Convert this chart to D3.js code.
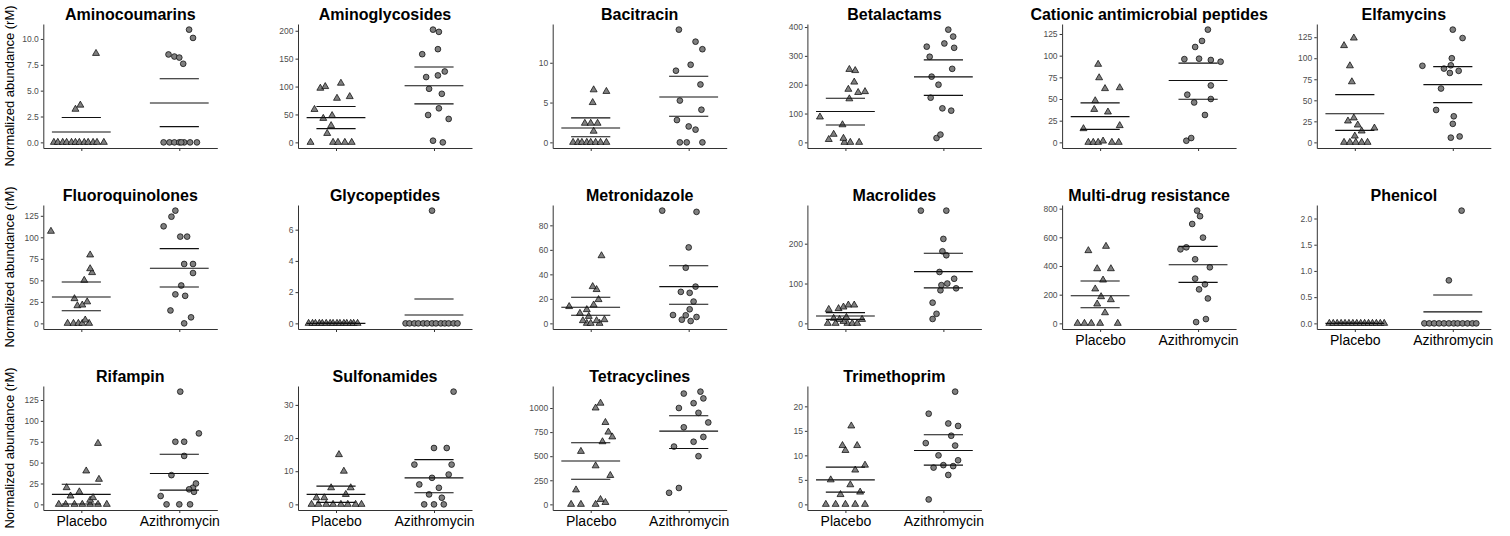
<!DOCTYPE html>
<html>
<head>
<meta charset="utf-8">
<script src="https://cdn.jsdelivr.net/npm/d3@7/dist/d3.min.js"></script>
<style>
  body { margin: 0; background: #fff; }
  svg { display: block; font-family: "Liberation Sans", Arial, sans-serif; }
</style>
</head>
<body>
<svg id="chart" width="1510" height="536"></svg>
<script>
// Panels of the facet grid, row by row
const panelNames = [
  "Aminocoumarins", "Aminoglycosides", "Bacitracin", "Betalactams", "Cationic antimicrobial peptides", "Elfamycins",
  "Fluoroquinolones", "Glycopeptides", "Metronidazole", "Macrolides", "Multi-drug resistance", "Phenicol",
  "Rifampin", "Sulfonamides", "Tetracyclines", "Trimethoprim"
];
const groups = ["Placebo", "Azithromycin"];

const yTicks = [
  [0, 2.5, 5, 7.5, 10], [0, 50, 100, 150, 200], [0, 5, 10], [0, 100, 200, 300, 400], [0, 25, 50, 75, 100, 125], [0, 25, 50, 75, 100, 125],
  [0, 25, 50, 75, 100, 125], [0, 2, 4, 6], [0, 20, 40, 60, 80], [0, 100, 200], [0, 200, 400, 600, 800], [0, 0.5, 1, 1.5, 2],
  [0, 25, 50, 75, 100, 125], [0, 10, 20, 30], [0, 250, 500, 750, 1000], [0, 5, 10, 15, 20]
];
const tickDecimals = [1, 0, 0, 0, 0, 0, 0, 0, 0, 0, 0, 1, 0, 0, 0, 0];

// [jitter (category units), normalized abundance]
const placeboPoints = [
  [[-0.28,0],[-0.24,0],[-0.19,0],[-0.15,0],[-0.10,0],[-0.06,0],[-0.02,0],[0.03,0],[0.07,0],[0.12,0],[0.16,0],[0.23,0],[-0.06,3.2],[-0.01,3.6],[0.15,8.6]],
  [[-0.26,0],[-0.03,0],[0.02,0],[0.09,0],[0.16,0],[-0.09,16],[-0.05,30],[-0.13,43],[-0.04,48],[-0.22,59],[0.01,79],[0.14,82],[-0.16,97],[-0.11,100],[0.05,106]],
  [[-0.18,0],[-0.13,0],[-0.09,0],[-0.04,0],[0.0,0],[0.05,0],[0.10,0],[0.16,0],[0.03,1.4],[-0.06,2.4],[0,2.4],[0.07,2.4],[0.02,5.0],[0.03,6.6],[0.16,6.4]],
  [[-0.01,0],[0.05,0],[0.14,0],[-0.17,10],[-0.02,14],[-0.12,28],[-0.03,61],[-0.26,88],[0.04,151],[0.13,173],[0.2,176],[0.03,184],[0.09,209],[0.1,249],[0.04,253]],
  [[-0.12,0],[-0.07,0],[-0.02,0],[0.12,0],[0.19,0],[0.03,1.5],[-0.17,15.8],[0.2,19.3],[0.08,35],[-0.06,38],[-0.05,48],[0.05,62],[0.2,63],[-0.01,74.5],[-0.02,90]],
  [[-0.11,0],[-0.05,0],[0.01,0],[0.07,0],[0.13,0],[0,7.5],[0.07,13.5],[0.2,17],[0.03,20.6],[-0.07,25.4],[-0.01,29],[-0.03,72],[-0.05,91],[-0.11,115],[-0.01,124]],
  [[-0.14,0],[-0.08,0],[-0.03,0],[0.01,0],[0.08,0],[0.04,3.9],[-0.04,20.5],[0.01,21.3],[0.06,25],[-0.07,28.7],[0.03,50],[0.11,59],[0.09,63.5],[0.09,79.5],[-0.31,107]],
  [[-0.28,0],[-0.24,0],[-0.21,0],[-0.17,0],[-0.14,0],[-0.10,0],[-0.06,0],[-0.03,0],[0.01,0],[0.04,0],[0.08,0],[0.11,0],[0.15,0],[0.18,0],[0.22,0]],
  [[-0.04,0],[0,0],[0.09,0],[-0.08,2.2],[0.06,2.2],[0.14,3],[-0.02,5.7],[-0.11,8.2],[-0.04,11.2],[-0.22,13.7],[0.03,15],[0.08,19.4],[0.06,27.6],[0.02,30],[0.11,55.2]],
  [[-0.18,0],[-0.1,0],[0.02,0],[0.07,0],[0.12,0],[-0.02,5],[0.17,10],[-0.12,12.6],[-0.06,10],[0.01,15],[-0.17,35],[-0.07,37],[-0.02,41],[0.03,46],[0.09,46]],
  [[-0.23,0],[-0.16,0],[-0.09,0],[0,0],[0.18,0],[0.05,74],[-0.03,135],[0.11,165],[0.01,186],[-0.05,240],[0.03,302],[-0.03,381],[0.11,381],[-0.12,507],[0.06,537]],
  [[-0.26,0],[-0.22,0],[-0.18,0],[-0.14,0],[-0.1,0],[-0.06,0],[-0.02,0],[0.02,0],[0.06,0],[0.1,0],[0.14,0],[0.18,0],[0.22,0],[0.26,0],[0.30,0]],
  [[-0.23,0],[-0.16,0],[-0.07,0],[0.01,0],[0.09,0],[0.17,0],[0.26,0],[-0.11,10],[-0.02,15],[0.09,5],[-0.15,20],[0.05,40],[0.18,30],[0.17,73],[0.12,8]],
  [[-0.25,0],[-0.18,0],[-0.1,0],[-0.03,0],[0.05,0],[0.12,0],[0.2,0],[0.26,0],[-0.12,2],[0.1,3],[-0.05,5],[0.15,5],[0.08,10],[0.03,15],[-0.2,2]],
  [[-0.2,0],[-0.1,0],[0.05,0],[0.15,20],[0.1,50],[-0.15,150],[0.2,300],[0.05,400],[-0.1,550],[0.12,650],[0.22,700],[0.15,850],[0.18,750],[0.05,1000],[0.1,1050]],
  [[-0.2,0],[-0.1,0],[0.0,0],[0.1,0],[0.2,0],[-0.05,2],[0.15,2.5],[0.05,4],[-0.15,5],[0.1,7],[0.2,8],[0,11],[0.12,12],[-0.03,12],[0.06,16]]
];

const azithroPoints = [
  [[-0.16,0],[-0.10,0],[-0.05,0],[0,0],[0.05,0],[0.11,0],[0.18,0],[0.02,0],[-0.11,8.5],[-0.05,8.3],[0.0,8.2],[0.04,7.6],[0.14,10.1],[0.10,10.9]],
  [[-0.01,3],[0.09,0],[-0.06,49],[0.05,61],[0.15,42],[0.08,87],[-0.05,96],[-0.08,117],[0.04,120],[0.11,127],[-0.12,158],[0.04,167],[0.05,198],[-0.01,202]],
  [[-0.09,0],[-0.02,0],[0.14,0],[0.07,1.6],[0,2.0],[-0.12,2.8],[0.13,4.1],[-0.09,5.25],[0.12,7.27],[-0.13,9.0],[0.02,9.75],[0.14,11.7],[0.07,12.65],[-0.10,14.16]],
  [[-0.07,15],[-0.03,27],[0.08,110],[-0.01,118],[-0.13,155],[-0.05,200],[-0.12,228],[0.09,255],[-0.14,297],[-0.17,332],[0.11,328],[0.01,343],[0.1,367],[0.05,391]],
  [[-0.12,1.9],[-0.07,5],[0.07,31.6],[-0.04,46],[0.13,50],[-0.11,55],[0.13,65.6],[0.23,93],[0.13,95],[0.01,96.5],[-0.14,96],[-0.03,110],[0.04,117],[0.1,130]],
  [[-0.02,5.6],[0.07,7],[0,22],[0.01,31],[-0.17,38.5],[-0.12,64],[-0.03,82.5],[0.06,85],[-0.09,87.7],[-0.31,91],[-0.02,91.6],[-0.01,100],[0.1,124],[0,134]],
  [[0.05,0],[0.12,7],[-0.09,15],[0.06,32],[-0.04,33.7],[0.02,44],[0.14,58.5],[0.05,69],[0.14,69],[0.01,100.8],[0.08,100.8],[-0.16,112.8],[-0.08,124],[-0.04,131]],
  [[-0.29,0],[-0.25,0],[-0.2,0],[-0.16,0],[-0.11,0],[-0.07,0],[-0.02,0],[0.02,0],[0.07,0],[0.11,0],[0.15,0],[0.2,0],[0.24,0],[-0.02,7.22]],
  [[0.02,1.9],[-0.07,3],[0.08,5.2],[-0.03,6.6],[-0.16,6.8],[0.01,11.5],[0.05,17.8],[0.01,24.9],[-0.08,25.7],[0.07,30],[-0.03,45.4],[0,62],[0.08,91],[-0.27,92]],
  [[-0.11,11],[-0.07,24],[-0.11,52],[-0.03,83],[0.13,88],[-0.02,96],[0.04,100],[0.11,112],[-0.04,129],[0.03,171],[-0.01,181],[0,212],[-0.23,283],[0.03,283]],
  [[-0.02,9],[0.08,30],[0.1,174],[0.01,237],[0.07,272],[-0.03,312],[0.12,391],[-0.03,447],[-0.18,516],[-0.12,530],[0.05,598],[-0.06,693],[0.02,747],[-0.01,786]],
  [[-0.29,0],[-0.24,0],[-0.19,0],[-0.14,0],[-0.09,0],[-0.04,0],[0.01,0],[0.05,0],[0.1,0],[0.15,0],[0.2,0],[0.24,0],[-0.04,0.82],[0.09,2.15]],
  [[-0.19,10],[-0.13,0],[0,0],[0.11,0],[0.15,15],[0.14,20],[0.17,25],[0.05,58],[-0.04,75],[0.05,75],[0.2,85],[0.01,135],[-0.08,35],[0.1,18]],
  [[-0.2,12],[0,17],[0.13,17],[0.2,34],[-0.1,0],[0,0],[0.1,0],[-0.05,3],[0.05,5],[0.15,9],[-0.15,6],[0.08,2],[-0.02,8],[0.18,12]],
  [[-0.2,120],[-0.1,170],[0.1,500],[-0.15,600],[0.05,650],[0.15,700],[-0.05,800],[0.2,850],[0.1,950],[-0.1,1000],[0.05,1050],[0.15,1100],[-0.05,1150],[0.12,1170]],
  [[-0.15,1],[0.05,6],[-0.1,7.5],[0.1,7.8],[0.0,8],[0.15,9],[-0.05,10],[0.12,12],[-0.18,12.5],[0.08,14],[0.15,16],[0.05,16.5],[-0.15,18.5],[0.12,23]]
];

// summary lines: [placebo, azithromycin]; null = below axis, not drawn
const meanLines = [
  [1.0, 3.8], [44.4, 101.5], [1.8, 5.7], [107, 227], [29.7, 71.4], [34, 68.6],
  [30.6, 64], [0, 0.54], [13.1, 30], [18.5, 130], [193, 409], [0, 0.22],
  [12, 37], [3, 8], [450, 760], [5, 11]
];
const upperLines = [
  [2.4, 6.15], [64.3, 135], [3.07, 8.3], [153, 286], [45.5, 91.4], [56.7, 90],
  [48, 86.8], [0, 1.56], [21.3, 47], [27, 176], [295, 537], [0, 0.54],
  [24, 60], [5.5, 13.5], [640, 920], [7.6, 14.2]
];
const lowerLines = [
  [null, 1.52], [24.6, 69], [0.71, 3.28], [60, 163], [15, 49.8], [14.3, 47.2],
  [14.7, 42.2], [0, null], [6.6, 15.6], [10, 89], [109, 286], [0, null],
  [0.5, 17], [0.6, 3.5], [260, 580], [2.5, 8]
];

const svg = d3.select("#chart");
const nCols = 6;
const panelW = 174, panelH = 124;
const colLeft = 43.3, colStep = 254.7;
const rowTop = 24, rowStep = 181;

const triangle = d3.symbol().type(d3.symbolTriangle).size(21);
const circle = d3.symbol().type(d3.symbolCircle).size(26);

panelNames.forEach((name, i) => {
  const row = Math.floor(i / nCols), col = i % nCols;
  const x0 = colLeft + col * colStep;
  const y0 = rowTop + row * rowStep;
  const g = svg.append("g");

  const x = d3.scaleLinear().domain([0.612, 2.388]).range([x0, x0 + panelW]);

  const allVals = placeboPoints[i].map(d => d[1])
    .concat(azithroPoints[i].map(d => d[1]))
    .concat(meanLines[i], upperLines[i], lowerLines[i])
    .filter(v => v != null);
  const lo = Math.min(0, d3.min(allVals)), hi = d3.max(allVals);
  const pad = (hi - lo) * 0.05;
  const y = d3.scaleLinear().domain([lo - pad, hi + pad]).range([y0 + panelH, y0]);

  // axes
  const fmt = d3.format("." + tickDecimals[i] + "f");
  const yAxis = g.append("g")
    .attr("transform", `translate(${x0},0)`)
    .call(d3.axisLeft(y).tickValues(yTicks[i]).tickFormat(fmt).tickSize(2.5).tickPadding(2).tickSizeOuter(0));
  yAxis.selectAll("text").attr("font-size", "8.5px").attr("fill", "#4d4d4d");
  yAxis.selectAll("line").attr("stroke", "#333");
  yAxis.select(".domain").attr("stroke", "#333");

  const showLabels = i + nCols >= panelNames.length;
  const xAxis = g.append("g")
    .attr("transform", `translate(0,${y0 + panelH})`)
    .call(d3.axisBottom(x).tickValues([1, 2])
      .tickFormat(d => showLabels ? groups[d - 1] : "")
      .tickSize(3).tickPadding(3).tickSizeOuter(0));
  xAxis.selectAll("text").attr("font-size", "14px").attr("fill", "#000");
  xAxis.selectAll("line").attr("stroke", "#333");
  xAxis.select(".domain").attr("stroke", "#333");

  // title
  g.append("text")
    .attr("x", x0 + panelW / 2)
    .attr("y", y0 - 4.5)
    .attr("text-anchor", "middle")
    .attr("font-size", "16px")
    .attr("font-weight", "bold")
    .text(name);

  // points
  g.selectAll("path.placebo")
    .data(placeboPoints[i])
    .join("path")
    .attr("class", "placebo")
    .attr("d", triangle)
    .attr("transform", d => `translate(${x(1 + d[0])},${y(d[1])})`)
    .attr("fill", "#7f7f7f")
    .attr("stroke", "#000")
    .attr("stroke-width", 0.7);

  g.selectAll("path.azithro")
    .data(azithroPoints[i])
    .join("path")
    .attr("class", "azithro")
    .attr("d", circle)
    .attr("transform", d => `translate(${x(2 + d[0])},${y(d[1])})`)
    .attr("fill", "#7f7f7f")
    .attr("stroke", "#000")
    .attr("stroke-width", 0.7);

  // mean and interval lines
  [1, 2].forEach(grp => {
    const k = grp - 1;
    const segs = [
      { v: meanLines[i][k], w: 0.3 },
      { v: upperLines[i][k], w: 0.2 },
      { v: lowerLines[i][k], w: 0.2 }
    ].filter(s => s.v != null);
    segs.forEach(s => {
      g.append("line")
        .attr("x1", x(grp - s.w))
        .attr("x2", x(grp + s.w))
        .attr("y1", y(s.v))
        .attr("y2", y(s.v))
        .attr("stroke", "#111")
        .attr("stroke-width", 1.1);
    });
  });

  // y axis title on first column
  if (col === 0) {
    g.append("text")
      .attr("transform", `translate(14,${y0 + panelH / 2}) rotate(-90)`)
      .attr("text-anchor", "middle")
      .attr("font-size", "13px")
      .text("Normalized abundance (rM)");
  }
});
</script>
</body>
</html>
